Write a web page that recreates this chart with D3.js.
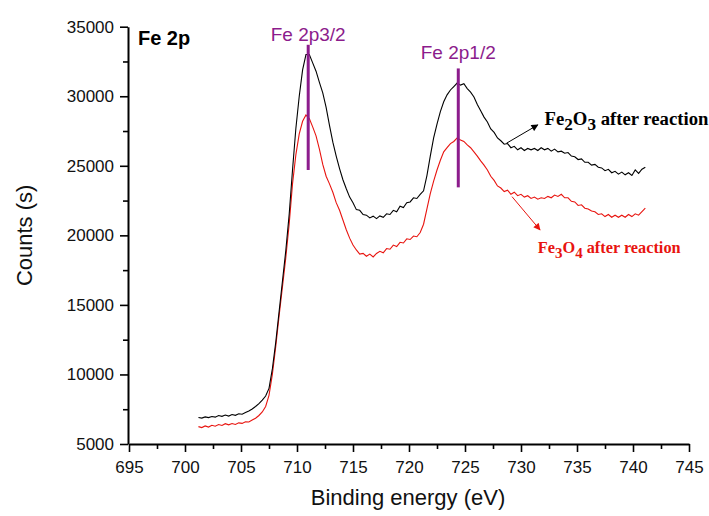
<!DOCTYPE html>
<html>
<head>
<script src="https://cdnjs.cloudflare.com/ajax/libs/d3/7.8.5/d3.min.js"></script>
<style>
  body { margin: 0; background: #fff; }
</style>
</head>
<body>
<div id="chart"></div>
<script>
// binding energy grid (eV)
const energy = [
  701.2, 701.5, 701.8, 702.1, 702.4, 702.7, 703.0, 703.3, 703.6, 703.9,
  704.2, 704.5, 704.8, 705.1, 705.4, 705.7, 706.0, 706.3, 706.6, 706.9,
  707.2, 707.5, 707.8, 708.1, 708.4, 708.7, 709.0, 709.3, 709.6, 709.9,
  710.2, 710.5, 710.8, 711.1, 711.4, 711.7, 712.0, 712.3, 712.6, 712.9,
  713.2, 713.5, 713.8, 714.1, 714.4, 714.7, 715.0, 715.3, 715.6, 715.9,
  716.2, 716.5, 716.8, 717.1, 717.4, 717.7, 718.0, 718.3, 718.6, 718.9,
  719.2, 719.5, 719.8, 720.1, 720.4, 720.7, 721.0, 721.3, 721.6, 721.9,
  722.2, 722.5, 722.8, 723.1, 723.4, 723.7, 724.0, 724.3, 724.6, 724.9,
  725.2, 725.5, 725.8, 726.1, 726.4, 726.7, 727.0, 727.3, 727.6, 727.9,
  728.2, 728.5, 728.8, 729.1, 729.4, 729.7, 730.0, 730.3, 730.6, 730.9,
  731.2, 731.5, 731.8, 732.1, 732.4, 732.7, 733.0, 733.3, 733.6, 733.9,
  734.2, 734.5, 734.8, 735.1, 735.4, 735.7, 736.0, 736.3, 736.6, 736.9,
  737.2, 737.5, 737.8, 738.1, 738.4, 738.7, 739.0, 739.3, 739.6, 739.9,
  740.2, 740.5, 740.8, 741.1
];

// Fe2O3 after reaction (black)
const fe2o3 = [
  6900, 6860, 6950, 6900, 6980, 6930, 7050, 6990, 7080, 7010,
  7120, 7060, 7170, 7140, 7260, 7380, 7520, 7700, 7900, 8150,
  8450, 9000, 10400, 12300, 14500, 16700, 18900, 21500, 24700, 27700,
  30000, 31900, 33000, 33000, 32400, 31800, 31000, 30250, 29200, 27900,
  26700, 25700, 24800, 24000, 23350, 22750, 22350, 21850, 21800, 21500,
  21450, 21250, 21380, 21200, 21400, 21300, 21550, 21500, 21800, 21700,
  22100, 22000, 22350, 22400, 22700, 22650, 22950, 23200, 24300, 25700,
  27000, 28000, 28900, 29600, 30100, 30450, 30700, 30950, 30800, 30900,
  30550, 30300, 29950, 29400, 28950, 28500, 28150, 27650, 27400, 27000,
  26800, 26550, 26600, 26300, 26400, 26150, 26300, 26100, 26250, 26150,
  26250, 26100, 26300, 26150, 26250, 26050, 26200, 26000, 26050, 25900,
  25950, 25700, 25650, 25450, 25500, 25250, 25250, 25050, 25100, 24900,
  24850, 24650, 24750, 24500, 24600, 24400, 24550, 24350, 24500, 24300,
  24700, 24450, 24750, 24900
];

// Fe3O4 after reaction (red)
const fe3o4 = [
  6250, 6180, 6300, 6220, 6350, 6280, 6400, 6330, 6460, 6380,
  6470, 6400, 6520, 6480, 6600, 6580, 6720, 6850, 7050, 7300,
  7700, 8500, 10000, 12000, 14200, 16300, 18400, 20800, 23700, 25800,
  27300, 28200, 28650, 28400, 27800, 27150, 26200, 25100, 24250, 23700,
  23100, 22350, 21800, 21100, 20400, 19800, 19300, 18950, 18650, 18700,
  18500, 18650, 18450, 18700, 18850, 18750, 19050, 19000, 19300, 19200,
  19500, 19450, 19750, 19700, 19950, 19900, 20200, 20800, 21900, 23000,
  23900, 24700, 25400, 26000, 26300, 26600, 26750, 27000, 26850, 26750,
  26500, 26300, 26000, 25700, 25350, 25050, 24700, 24250, 23950, 23550,
  23400, 23150, 23250, 22950, 23100, 22850, 22950, 22750, 22850, 22650,
  22750, 22600, 22700, 22650, 22800, 22700, 22900, 22800, 22950, 22700,
  22700, 22450, 22400, 22150, 22200, 21950, 21900, 21750, 21700, 21500,
  21550, 21350, 21500, 21300, 21450, 21300, 21450, 21300, 21500, 21350,
  21550, 21450, 21700, 21950
];

const xTicks = [695, 700, 705, 710, 715, 720, 725, 730, 735, 740, 745];
const yTicks = [5000, 10000, 15000, 20000, 25000, 30000, 35000];

// peak markers: energy, line top/bottom counts, label and its baseline count
const peaks = [
  { e: 711.0, top: 33700, bottom: 24700, label: "Fe 2p3/2", labelY: 34000 },
  { e: 724.4, top: 32000, bottom: 23450, label: "Fe 2p1/2", labelY: 32700 }
];

const W = 709, H = 516;
const x = d3.scaleLinear().domain([695, 745]).range([129, 689]);
const y = d3.scaleLinear().domain([5000, 35000]).range([444, 26.7]);

const svg = d3.select("#chart").append("svg")
  .attr("width", W).attr("height", H);

const defs = svg.append("defs");
[["arrBlack", "#000"], ["arrRed", "#e8140f"]].forEach(([id, c]) => {
  defs.append("marker")
    .attr("id", id)
    .attr("viewBox", "0 0 10 10")
    .attr("refX", 9).attr("refY", 5)
    .attr("markerWidth", 9).attr("markerHeight", 7)
    .attr("markerUnits", "userSpaceOnUse")
    .attr("orient", "auto")
    .append("path").attr("d", "M0,0L10,5L0,10Z").attr("fill", c);
});

// axes
const font = "'Liberation Sans', Arial, sans-serif";

svg.append("g").attr("transform", `translate(0,${y(5000)})`)
  .call(d3.axisBottom(x).tickValues(xTicks).tickSize(8).tickPadding(9).tickSizeOuter(0).tickFormat(d3.format("d")));
svg.append("g").attr("transform", `translate(0,${y(5000)})`)
  .call(d3.axisBottom(x).tickValues(xTicks.slice(0, -1).map(d => d + 2.5)).tickSize(5).tickFormat(""))
  .select(".domain").remove();

svg.append("g").attr("transform", `translate(${x(695) - 1},0)`)
  .call(d3.axisLeft(y).tickValues(yTicks).tickSize(8).tickPadding(6).tickSizeOuter(0).tickFormat(d3.format("d")));
svg.append("g").attr("transform", `translate(${x(695) - 1},0)`)
  .call(d3.axisLeft(y).tickValues(yTicks.slice(0, -1).map(d => d + 2500)).tickSize(5).tickFormat(""))
  .select(".domain").remove();

svg.selectAll(".domain").attr("stroke-width", 2);
svg.selectAll(".tick line").attr("stroke-width", 1.6);
svg.selectAll(".tick text").attr("font-size", 17).attr("font-family", font).attr("fill", "#111");

svg.append("text")
  .attr("x", 408).attr("y", 505)
  .attr("text-anchor", "middle")
  .attr("font-family", font).attr("font-size", 22).attr("fill", "#111")
  .text("Binding energy (eV)");

svg.append("text")
  .attr("transform", `translate(32,${(y(5000) + y(35000)) / 2}) rotate(-90)`)
  .attr("text-anchor", "middle")
  .attr("font-family", font).attr("font-size", 22).attr("fill", "#111")
  .text("Counts (s)");

// spectra
const line = d3.line().x((d, i) => x(energy[i])).y(d => y(d));
svg.append("path").datum(fe3o4)
  .attr("d", line).attr("fill", "none").attr("stroke", "#e8140f").attr("stroke-width", 1.1);
svg.append("path").datum(fe2o3)
  .attr("d", line).attr("fill", "none").attr("stroke", "#000").attr("stroke-width", 1.1);

// peak lines
const purple = "#8c1c8c";
svg.selectAll(".peak").data(peaks).join("line")
  .attr("x1", d => x(d.e)).attr("x2", d => x(d.e))
  .attr("y1", d => y(d.top)).attr("y2", d => y(d.bottom))
  .attr("stroke", purple).attr("stroke-width", 3);
svg.selectAll(".peakLabel").data(peaks).join("text")
  .attr("x", d => x(d.e)).attr("y", d => y(d.labelY))
  .attr("text-anchor", "middle")
  .attr("font-family", font).attr("font-size", 19).attr("fill", purple)
  .text(d => d.label);

svg.append("text")
  .attr("x", x(695.8)).attr("y", y(33700))
  .attr("font-family", font).attr("font-size", 20).attr("font-weight", "bold")
  .text("Fe 2p");

// series labels with arrows
const serif = "'Liberation Serif', 'Times New Roman', serif";
function chem(g, parts, fs, color) {
  const t = g.attr("font-family", serif).attr("font-weight", "bold")
    .attr("font-size", fs).attr("fill", color);
  parts.forEach(([s, sub]) => {
    t.append("tspan").text(s)
      .attr("font-size", sub ? fs * 0.92 : fs)
      .attr("dy", sub ? 5 : (t.selectAll("tspan").size() > 1 ? -5 : 0));
  });
}
svg.append("line")
  .attr("x1", x(728.7)).attr("y1", y(26620))
  .attr("x2", x(731.5)).attr("y2", y(27940))
  .attr("stroke", "#000").attr("stroke-width", 1).attr("marker-end", "url(#arrBlack)");
chem(svg.append("text").attr("x", x(732.1)).attr("y", y(27940)),
  [["Fe", 0], ["2", 1], ["O", 0], ["3", 1], [" after reaction", 0]], 18.7, "#000");

svg.append("line")
  .attr("x1", x(729.2)).attr("y1", y(22780))
  .attr("x2", x(731.7)).attr("y2", y(20390))
  .attr("stroke", "#e8140f").attr("stroke-width", 1).attr("marker-end", "url(#arrRed)");
chem(svg.append("text").attr("x", x(731.5)).attr("y", y(18730)),
  [["Fe", 0], ["3", 1], ["O", 0], ["4", 1], [" after reaction", 0]], 16.3, "#e8140f");
</script>
</body>
</html>
